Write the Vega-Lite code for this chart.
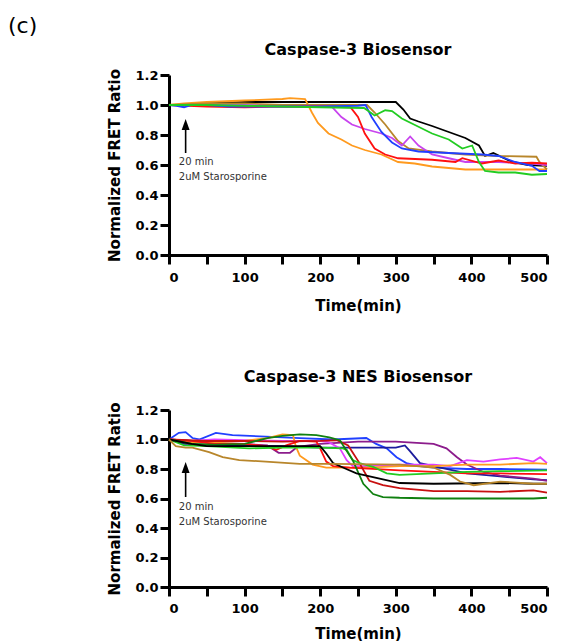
{
  "$schema": "https://vega.github.io/schema/vega-lite/v6.json",
  "padding": {"left": 7, "top": 14, "right": 0, "bottom": 0},
  "title": {"text": "(c)", "anchor": "start", "dx": -100, "fontSize": 22, "fontWeight": "normal", "font": "DejaVu Sans", "color": "black", "offset": 4},
  "config": {
    "view": {"stroke": null},
    "axis": {"domainColor": "black", "domainWidth": 3, "tickColor": "black", "tickWidth": 3, "tickSize": 9, "labelFont": "DejaVu Sans", "labelFontWeight": "bold", "labelFontSize": 13, "labelColor": "black", "titleFont": "DejaVu Sans", "titleFontWeight": "bold", "titleFontSize": 15, "titleColor": "black", "grid": false},
    "title": {"font": "DejaVu Sans", "fontWeight": "bold", "fontSize": 16, "color": "black"}
  },
  "datasets": {
    "p1": [
      {"s":"c1","t":0,"v":1.0},{"s":"c1","t":20,"v":1.0},{"s":"c1","t":50,"v":1.01},{"s":"c1","t":100,"v":1.02},{"s":"c1","t":150,"v":1.02},{"s":"c1","t":200,"v":1.02},{"s":"c1","t":250,"v":1.02},{"s":"c1","t":300,"v":1.02},{"s":"c1","t":310,"v":0.97},{"s":"c1","t":319,"v":0.91},{"s":"c1","t":330,"v":0.89},{"s":"c1","t":348,"v":0.86},{"s":"c1","t":370,"v":0.82},{"s":"c1","t":392,"v":0.78},{"s":"c1","t":410,"v":0.73},{"s":"c1","t":418,"v":0.66},{"s":"c1","t":429,"v":0.68},{"s":"c1","t":454,"v":0.62},{"s":"c1","t":475,"v":0.6},{"s":"c1","t":500,"v":0.595},
      {"s":"c2","t":0,"v":1.0},{"s":"c2","t":20,"v":1.01},{"s":"c2","t":50,"v":1.02},{"s":"c2","t":100,"v":1.03},{"s":"c2","t":150,"v":1.04},{"s":"c2","t":160,"v":1.046},{"s":"c2","t":180,"v":1.04},{"s":"c2","t":189,"v":0.95},{"s":"c2","t":197,"v":0.88},{"s":"c2","t":211,"v":0.81},{"s":"c2","t":228,"v":0.77},{"s":"c2","t":242,"v":0.73},{"s":"c2","t":259,"v":0.7},{"s":"c2","t":281,"v":0.67},{"s":"c2","t":303,"v":0.62},{"s":"c2","t":325,"v":0.61},{"s":"c2","t":348,"v":0.59},{"s":"c2","t":370,"v":0.58},{"s":"c2","t":392,"v":0.57},{"s":"c2","t":414,"v":0.57},{"s":"c2","t":436,"v":0.57},{"s":"c2","t":480,"v":0.57},{"s":"c2","t":500,"v":0.57},
      {"s":"c3","t":0,"v":1.0},{"s":"c3","t":50,"v":1.01},{"s":"c3","t":100,"v":1.01},{"s":"c3","t":150,"v":1.0},{"s":"c3","t":200,"v":1.0},{"s":"c3","t":262,"v":1.0},{"s":"c3","t":272,"v":0.95},{"s":"c3","t":286,"v":0.87},{"s":"c3","t":303,"v":0.76},{"s":"c3","t":317,"v":0.71},{"s":"c3","t":348,"v":0.69},{"s":"c3","t":392,"v":0.67},{"s":"c3","t":436,"v":0.66},{"s":"c3","t":486,"v":0.655},{"s":"c3","t":490,"v":0.62},{"s":"c3","t":500,"v":0.57},
      {"s":"c4","t":0,"v":1.0},{"s":"c4","t":50,"v":1.0},{"s":"c4","t":100,"v":1.0},{"s":"c4","t":150,"v":0.99},{"s":"c4","t":200,"v":0.99},{"s":"c4","t":215,"v":0.99},{"s":"c4","t":228,"v":0.92},{"s":"c4","t":242,"v":0.87},{"s":"c4","t":259,"v":0.84},{"s":"c4","t":281,"v":0.81},{"s":"c4","t":295,"v":0.78},{"s":"c4","t":308,"v":0.73},{"s":"c4","t":319,"v":0.79},{"s":"c4","t":330,"v":0.73},{"s":"c4","t":348,"v":0.67},{"s":"c4","t":370,"v":0.645},{"s":"c4","t":392,"v":0.62},{"s":"c4","t":436,"v":0.62},{"s":"c4","t":480,"v":0.61},{"s":"c4","t":500,"v":0.6},
      {"s":"c5","t":0,"v":1.0},{"s":"c5","t":50,"v":0.99},{"s":"c5","t":100,"v":0.985},{"s":"c5","t":150,"v":0.99},{"s":"c5","t":200,"v":0.99},{"s":"c5","t":240,"v":0.985},{"s":"c5","t":250,"v":0.92},{"s":"c5","t":259,"v":0.81},{"s":"c5","t":272,"v":0.71},{"s":"c5","t":286,"v":0.67},{"s":"c5","t":303,"v":0.645},{"s":"c5","t":348,"v":0.635},{"s":"c5","t":379,"v":0.62},{"s":"c5","t":388,"v":0.645},{"s":"c5","t":414,"v":0.61},{"s":"c5","t":436,"v":0.63},{"s":"c5","t":458,"v":0.61},{"s":"c5","t":480,"v":0.615},{"s":"c5","t":500,"v":0.61},
      {"s":"c6","t":0,"v":1.0},{"s":"c6","t":10,"v":0.995},{"s":"c6","t":20,"v":0.985},{"s":"c6","t":30,"v":1.0},{"s":"c6","t":50,"v":1.0},{"s":"c6","t":80,"v":0.99},{"s":"c6","t":100,"v":0.99},{"s":"c6","t":150,"v":0.99},{"s":"c6","t":200,"v":0.99},{"s":"c6","t":250,"v":0.995},{"s":"c6","t":260,"v":1.0},{"s":"c6","t":268,"v":0.92},{"s":"c6","t":281,"v":0.82},{"s":"c6","t":295,"v":0.75},{"s":"c6","t":308,"v":0.71},{"s":"c6","t":330,"v":0.69},{"s":"c6","t":370,"v":0.68},{"s":"c6","t":414,"v":0.67},{"s":"c6","t":436,"v":0.66},{"s":"c6","t":458,"v":0.62},{"s":"c6","t":480,"v":0.595},{"s":"c6","t":490,"v":0.56},{"s":"c6","t":500,"v":0.56},
      {"s":"c7","t":0,"v":1.0},{"s":"c7","t":50,"v":1.0},{"s":"c7","t":100,"v":0.995},{"s":"c7","t":150,"v":0.99},{"s":"c7","t":200,"v":0.985},{"s":"c7","t":258,"v":0.98},{"s":"c7","t":272,"v":0.93},{"s":"c7","t":286,"v":0.965},{"s":"c7","t":295,"v":0.96},{"s":"c7","t":308,"v":0.91},{"s":"c7","t":330,"v":0.855},{"s":"c7","t":348,"v":0.81},{"s":"c7","t":370,"v":0.77},{"s":"c7","t":388,"v":0.71},{"s":"c7","t":401,"v":0.73},{"s":"c7","t":410,"v":0.62},{"s":"c7","t":418,"v":0.56},{"s":"c7","t":436,"v":0.55},{"s":"c7","t":458,"v":0.55},{"s":"c7","t":480,"v":0.535},{"s":"c7","t":500,"v":0.54}
    ],
    "p2": [
      {"s":"n1","t":0,"v":1.0},{"s":"n1","t":13,"v":1.045},{"s":"n1","t":22,"v":1.05},{"s":"n1","t":31,"v":1.01},{"s":"n1","t":40,"v":1.0},{"s":"n1","t":62,"v":1.045},{"s":"n1","t":84,"v":1.03},{"s":"n1","t":128,"v":1.02},{"s":"n1","t":173,"v":1.01},{"s":"n1","t":217,"v":1.0},{"s":"n1","t":261,"v":1.01},{"s":"n1","t":274,"v":0.97},{"s":"n1","t":288,"v":0.94},{"s":"n1","t":301,"v":0.88},{"s":"n1","t":314,"v":0.84},{"s":"n1","t":332,"v":0.82},{"s":"n1","t":350,"v":0.81},{"s":"n1","t":394,"v":0.8},{"s":"n1","t":438,"v":0.8},{"s":"n1","t":500,"v":0.795},
      {"s":"n2","t":0,"v":1.0},{"s":"n2","t":20,"v":0.97},{"s":"n2","t":50,"v":0.965},{"s":"n2","t":100,"v":0.96},{"s":"n2","t":150,"v":0.955},{"s":"n2","t":200,"v":0.945},{"s":"n2","t":250,"v":0.945},{"s":"n2","t":300,"v":0.945},{"s":"n2","t":312,"v":0.96},{"s":"n2","t":319,"v":0.92},{"s":"n2","t":332,"v":0.84},{"s":"n2","t":350,"v":0.82},{"s":"n2","t":394,"v":0.77},{"s":"n2","t":438,"v":0.75},{"s":"n2","t":482,"v":0.73},{"s":"n2","t":500,"v":0.725},
      {"s":"n3","t":0,"v":1.0},{"s":"n3","t":30,"v":0.99},{"s":"n3","t":60,"v":0.975},{"s":"n3","t":100,"v":0.97},{"s":"n3","t":130,"v":0.96},{"s":"n3","t":145,"v":0.91},{"s":"n3","t":160,"v":0.91},{"s":"n3","t":170,"v":0.95},{"s":"n3","t":200,"v":0.97},{"s":"n3","t":250,"v":0.985},{"s":"n3","t":300,"v":0.985},{"s":"n3","t":350,"v":0.97},{"s":"n3","t":367,"v":0.94},{"s":"n3","t":381,"v":0.88},{"s":"n3","t":394,"v":0.83},{"s":"n3","t":416,"v":0.78},{"s":"n3","t":438,"v":0.755},{"s":"n3","t":482,"v":0.735},{"s":"n3","t":500,"v":0.72},
      {"s":"n4","t":0,"v":1.0},{"s":"n4","t":30,"v":0.99},{"s":"n4","t":60,"v":1.0},{"s":"n4","t":100,"v":0.995},{"s":"n4","t":150,"v":0.99},{"s":"n4","t":200,"v":0.99},{"s":"n4","t":212,"v":0.98},{"s":"n4","t":226,"v":0.94},{"s":"n4","t":235,"v":0.86},{"s":"n4","t":243,"v":0.82},{"s":"n4","t":261,"v":0.82},{"s":"n4","t":305,"v":0.83},{"s":"n4","t":350,"v":0.83},{"s":"n4","t":372,"v":0.82},{"s":"n4","t":394,"v":0.86},{"s":"n4","t":416,"v":0.85},{"s":"n4","t":438,"v":0.865},{"s":"n4","t":460,"v":0.875},{"s":"n4","t":482,"v":0.85},{"s":"n4","t":491,"v":0.88},{"s":"n4","t":500,"v":0.84},
      {"s":"n5","t":0,"v":1.0},{"s":"n5","t":30,"v":0.98},{"s":"n5","t":60,"v":0.98},{"s":"n5","t":100,"v":0.99},{"s":"n5","t":130,"v":1.01},{"s":"n5","t":150,"v":1.035},{"s":"n5","t":164,"v":1.03},{"s":"n5","t":168,"v":0.95},{"s":"n5","t":173,"v":0.89},{"s":"n5","t":190,"v":0.83},{"s":"n5","t":208,"v":0.81},{"s":"n5","t":261,"v":0.81},{"s":"n5","t":305,"v":0.82},{"s":"n5","t":350,"v":0.82},{"s":"n5","t":394,"v":0.83},{"s":"n5","t":438,"v":0.83},{"s":"n5","t":482,"v":0.84},{"s":"n5","t":500,"v":0.835},
      {"s":"n6","t":0,"v":1.0},{"s":"n6","t":30,"v":0.99},{"s":"n6","t":60,"v":0.97},{"s":"n6","t":100,"v":0.97},{"s":"n6","t":128,"v":0.955},{"s":"n6","t":142,"v":0.93},{"s":"n6","t":155,"v":0.96},{"s":"n6","t":173,"v":0.99},{"s":"n6","t":195,"v":0.985},{"s":"n6","t":199,"v":0.95},{"s":"n6","t":208,"v":0.85},{"s":"n6","t":217,"v":0.82},{"s":"n6","t":239,"v":0.81},{"s":"n6","t":305,"v":0.79},{"s":"n6","t":350,"v":0.78},{"s":"n6","t":394,"v":0.77},{"s":"n6","t":438,"v":0.77},{"s":"n6","t":500,"v":0.765},
      {"s":"n7","t":0,"v":1.0},{"s":"n7","t":50,"v":0.99},{"s":"n7","t":100,"v":0.99},{"s":"n7","t":150,"v":0.985},{"s":"n7","t":200,"v":0.99},{"s":"n7","t":222,"v":0.995},{"s":"n7","t":237,"v":0.96},{"s":"n7","t":252,"v":0.84},{"s":"n7","t":265,"v":0.72},{"s":"n7","t":283,"v":0.69},{"s":"n7","t":305,"v":0.67},{"s":"n7","t":350,"v":0.65},{"s":"n7","t":394,"v":0.65},{"s":"n7","t":438,"v":0.645},{"s":"n7","t":482,"v":0.655},{"s":"n7","t":500,"v":0.64},
      {"s":"n8","t":0,"v":1.0},{"s":"n8","t":20,"v":0.96},{"s":"n8","t":50,"v":0.955},{"s":"n8","t":106,"v":0.94},{"s":"n8","t":150,"v":0.945},{"s":"n8","t":200,"v":0.945},{"s":"n8","t":230,"v":0.94},{"s":"n8","t":235,"v":0.93},{"s":"n8","t":243,"v":0.86},{"s":"n8","t":252,"v":0.84},{"s":"n8","t":270,"v":0.815},{"s":"n8","t":288,"v":0.77},{"s":"n8","t":305,"v":0.76},{"s":"n8","t":350,"v":0.77},{"s":"n8","t":394,"v":0.78},{"s":"n8","t":438,"v":0.785},{"s":"n8","t":500,"v":0.79},
      {"s":"n9","t":0,"v":1.0},{"s":"n9","t":30,"v":0.97},{"s":"n9","t":60,"v":0.965},{"s":"n9","t":100,"v":0.97},{"s":"n9","t":130,"v":1.01},{"s":"n9","t":150,"v":1.025},{"s":"n9","t":173,"v":1.035},{"s":"n9","t":195,"v":1.03},{"s":"n9","t":212,"v":1.015},{"s":"n9","t":226,"v":0.995},{"s":"n9","t":243,"v":0.86},{"s":"n9","t":257,"v":0.7},{"s":"n9","t":270,"v":0.63},{"s":"n9","t":283,"v":0.61},{"s":"n9","t":305,"v":0.605},{"s":"n9","t":350,"v":0.6},{"s":"n9","t":438,"v":0.6},{"s":"n9","t":482,"v":0.6},{"s":"n9","t":500,"v":0.605},
      {"s":"n10","t":0,"v":1.0},{"s":"n10","t":30,"v":0.97},{"s":"n10","t":50,"v":0.955},{"s":"n10","t":100,"v":0.955},{"s":"n10","t":150,"v":0.955},{"s":"n10","t":200,"v":0.955},{"s":"n10","t":208,"v":0.905},{"s":"n10","t":217,"v":0.84},{"s":"n10","t":230,"v":0.81},{"s":"n10","t":248,"v":0.77},{"s":"n10","t":283,"v":0.73},{"s":"n10","t":305,"v":0.705},{"s":"n10","t":350,"v":0.7},{"s":"n10","t":438,"v":0.705},{"s":"n10","t":482,"v":0.7},{"s":"n10","t":500,"v":0.7},
      {"s":"n11","t":0,"v":1.0},{"s":"n11","t":9,"v":0.955},{"s":"n11","t":22,"v":0.945},{"s":"n11","t":31,"v":0.945},{"s":"n11","t":53,"v":0.915},{"s":"n11","t":71,"v":0.88},{"s":"n11","t":93,"v":0.86},{"s":"n11","t":128,"v":0.85},{"s":"n11","t":173,"v":0.835},{"s":"n11","t":217,"v":0.835},{"s":"n11","t":305,"v":0.83},{"s":"n11","t":350,"v":0.81},{"s":"n11","t":372,"v":0.76},{"s":"n11","t":385,"v":0.715},{"s":"n11","t":403,"v":0.69},{"s":"n11","t":438,"v":0.715},{"s":"n11","t":482,"v":0.7},{"s":"n11","t":500,"v":0.7}
    ],
    "arrow1": [{"t": 22, "v": 0.68, "v2": 0.85}],
    "head1": [{"t": 22, "v": 0.87}],
    "note1": [{"t": 13, "v": 0.62, "label": "20 min"}, {"t": 13, "v": 0.52, "label": "2uM Starosporine"}],
    "arrow2": [{"t": 22, "v": 0.61, "v2": 0.79}],
    "head2": [{"t": 22, "v": 0.81}],
    "note2": [{"t": 13, "v": 0.54, "label": "20 min"}, {"t": 13, "v": 0.44, "label": "2uM Starosporine"}]
  },
  "spacing": 56,
  "vconcat": [
    {
      "width": 378, "height": 180,
      "title": {"text": "Caspase-3 Biosensor", "offset": 11},
      "encoding": {
        "x": {"field": "t", "type": "quantitative", "title": "Time(min)", "scale": {"domain": [0, 500], "nice": false}, "axis": {"values": [0,50,100,150,200,250,300,350,400,450,500], "labelPadding": 7, "titlePadding": 14}},
        "y": {"field": "v", "type": "quantitative", "title": "Normalized FRET Ratio", "scale": {"domain": [0, 1.2], "nice": false}, "axis": {"values": [0,0.2,0.4,0.6,0.8,1.0,1.2], "format": ".1f", "labelPadding": 2, "titlePadding": 12}}
      },
      "layer": [
        {"data": {"name": "p1"}, "mark": {"type": "line", "strokeWidth": 1.8},
         "encoding": {"color": {"field": "s", "type": "nominal", "legend": null,
           "scale": {"domain": ["c1","c2","c3","c4","c5","c6","c7","n1","n2","n3","n4","n5","n6","n7","n8","n9","n10","n11"],
                     "range": ["#000000","#FF9A1E","#B8862B","#C844EE","#FF1010","#2040FF","#22CC22","#2040FF","#1C1C9C","#8C1C8C","#E040FF","#FF9A1E","#FF1010","#C81010","#22CC22","#108010","#000000","#B8862B"]}}}},
        {"data": {"name": "arrow1"}, "mark": {"type": "rule", "strokeWidth": 1.6, "color": "black"}, "encoding": {"y2": {"field": "v2"}}},
        {"data": {"name": "head1"}, "mark": {"type": "point", "shape": "M0,-1L0.72,1L-0.72,1Z", "filled": true, "size": 121, "color": "black", "opacity": 1}, "encoding": {}},
        {"data": {"name": "note1"}, "mark": {"type": "text", "align": "left", "baseline": "middle", "fontSize": 10, "font": "DejaVu Sans", "color": "#333333"}, "encoding": {"text": {"field": "label"}}}
      ]
    },
    {
      "width": 378, "height": 177,
      "title": {"text": "Caspase-3 NES Biosensor", "offset": 17},
      "encoding": {
        "x": {"field": "t", "type": "quantitative", "title": "Time(min)", "scale": {"domain": [0, 500], "nice": false}, "axis": {"values": [0,50,100,150,200,250,300,350,400,450,500], "labelPadding": 6, "titlePadding": 11}},
        "y": {"field": "v", "type": "quantitative", "title": "Normalized FRET Ratio", "scale": {"domain": [0, 1.2], "nice": false}, "axis": {"values": [0,0.2,0.4,0.6,0.8,1.0,1.2], "format": ".1f", "labelPadding": 2, "titlePadding": 12}}
      },
      "layer": [
        {"data": {"name": "p2"}, "mark": {"type": "line", "strokeWidth": 1.8},
         "encoding": {"color": {"field": "s", "type": "nominal", "legend": null,
           "scale": {"domain": ["c1","c2","c3","c4","c5","c6","c7","n1","n2","n3","n4","n5","n6","n7","n8","n9","n10","n11"],
                     "range": ["#000000","#FF9A1E","#B8862B","#C844EE","#FF1010","#2040FF","#22CC22","#2040FF","#1C1C9C","#8C1C8C","#E040FF","#FF9A1E","#FF1010","#C81010","#22CC22","#108010","#000000","#B8862B"]}}}},
        {"data": {"name": "arrow2"}, "mark": {"type": "rule", "strokeWidth": 1.6, "color": "black"}, "encoding": {"y2": {"field": "v2"}}},
        {"data": {"name": "head2"}, "mark": {"type": "point", "shape": "M0,-1L0.72,1L-0.72,1Z", "filled": true, "size": 121, "color": "black", "opacity": 1}, "encoding": {}},
        {"data": {"name": "note2"}, "mark": {"type": "text", "align": "left", "baseline": "middle", "fontSize": 10, "font": "DejaVu Sans", "color": "#333333"}, "encoding": {"text": {"field": "label"}}}
      ]
    }
  ]
}
